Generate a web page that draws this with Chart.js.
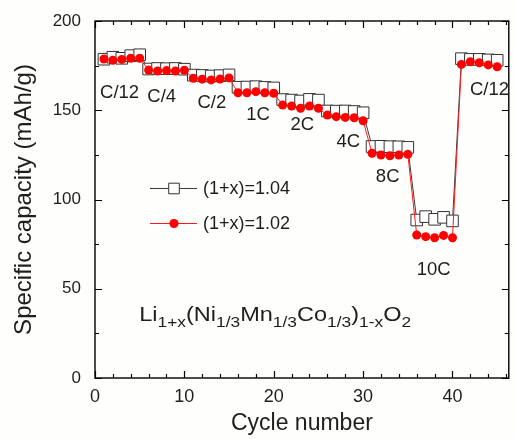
<!DOCTYPE html>
<html>
<head>
<meta charset="utf-8">
<script src="https://cdn.jsdelivr.net/npm/chart.js@4.4.0/dist/chart.umd.min.js"></script>
<style>
  html, body { margin: 0; padding: 0; overflow: hidden; background: #fefefc; }
  #wrap { width: 518px; height: 439px; }
</style>
</head>
<body>
<div id="wrap"><canvas id="c" width="518" height="439"></canvas></div>
<script>
// Rate-capability test: discharge capacity per cycle for two Li/TM ratios
const cycles = [1,2,3,4,5,6,7,8,9,10,11,12,13,14,15,16,17,18,19,20,21,22,23,24,25,
                26,27,28,29,30,31,32,33,34,35,36,37,38,39,40,41,42,43,44,45];
const cap104 = [178.6,179.7,179.1,180.6,181.1, 173.1,173.4,173.3,173.4,173.0,
                169.7,169.5,169.2,169.4,169.8, 162.9,163.0,163.2,162.8,162.5,
                156.0,155.7,155.2,156.1,155.7, 149.6,149.5,149.6,149.3,148.6,
                129.7,129.8,129.6,129.5,129.2, 88.5,90.4,88.9,90.0,88.0,
                178.9,178.5,178.5,178.2,178.0];
const cap102 = [178.7,178.0,178.5,179.1,179.1, 172.5,172.0,172.2,172.0,172.4,
                167.9,167.4,167.0,167.5,168.1, 159.8,159.8,160.4,159.8,159.5,
                152.9,152.4,151.1,152.4,151.1, 147.3,146.4,146.0,145.8,144.1,
                125.9,124.9,124.5,124.9,125.3, 80.1,79.2,78.6,79.9,78.6,
                175.7,177.2,176.6,175.4,174.4];
const seriesNames = ['(1+x)=1.04', '(1+x)=1.02'];

// C-rate labels and where they sit (cycle, capacity)
const rateLabels     = ['C/12','C/4','C/2','1C','2C','4C','8C','10C','C/12'];
const rateLabelCycle = [2.75, 7.47, 13.08, 18.24, 23.19, 28.35, 32.75, 37.9, 44.14];
const rateLabelCap   = [159.7, 157.4, 154.1, 147.3, 141.7, 132.2, 112.6, 60.5, 161.3];

// Composition label, [text, isSubscript]
const formulaParts = [['Li',0],['1+x',1],['(Ni',0],['1/3',1],['Mn',0],['1/3',1],
                      ['Co',0],['1/3',1],[')',0],['1-x',1],['O',0],['2',1]];
const formulaAt = [4.95, 32.1];

const xTickValues = [0, 10, 20, 30, 40];
const yTickValues = [0, 50, 100, 150, 200];

const TEXT = '#1e1e1e';
const FONT = "'Liberation Sans', Arial, sans-serif";

const toPoints = (ys) => cycles.map((c, i) => ({ x: c, y: ys[i] }));

// Box frame with inward major/minor ticks on all four sides
const frameTicks = {
  id: 'frameTicks',
  afterDatasetsDraw(chart) {
    const { ctx, chartArea: a, scales: { x, y } } = chart;
    ctx.save();
    ctx.strokeStyle = '#000';
    ctx.lineWidth = 1.4;
    ctx.strokeRect(a.left, a.top, a.right - a.left, a.bottom - a.top);
    ctx.lineWidth = 1.2;
    ctx.beginPath();
    for (let v = 0; v <= x.max; v += 2) {
      const px = Math.round(x.getPixelForValue(v)) + 0.5;
      const len = v % 10 === 0 ? 7 : 4;
      ctx.moveTo(px, a.bottom); ctx.lineTo(px, a.bottom - len);
      ctx.moveTo(px, a.top); ctx.lineTo(px, a.top + len);
    }
    for (let v = 0; v <= y.max; v += 25) {
      const py = Math.round(y.getPixelForValue(v)) + 0.5;
      const len = v % 50 === 0 ? 7 : 4;
      ctx.moveTo(a.left, py); ctx.lineTo(a.left + len, py);
      ctx.moveTo(a.right, py); ctx.lineTo(a.right - len, py);
    }
    ctx.stroke();
    ctx.restore();
  }
};

// Rate annotations, legend and composition text inside the plot
const annotations = {
  id: 'annotations',
  afterDraw(chart) {
    const { ctx, chartArea: a, scales: { x, y } } = chart;
    ctx.save();
    ctx.fillStyle = TEXT;
    ctx.font = '18.5px ' + FONT;
    ctx.textAlign = 'center';
    ctx.textBaseline = 'middle';
    rateLabels.forEach((t, i) => {
      ctx.fillText(t, x.getPixelForValue(rateLabelCycle[i]), y.getPixelForValue(rateLabelCap[i]));
    });

    // legend
    const ds = chart.data.datasets;
    const lx0 = a.left + 55, lx1 = a.left + 102, mx = a.left + 79;
    const rows = [a.top + 167, a.top + 202];
    ds.forEach((d, i) => {
      const ry = rows[i];
      ctx.strokeStyle = d.borderColor;
      ctx.lineWidth = 1;
      ctx.beginPath(); ctx.moveTo(lx0, ry + 0.5); ctx.lineTo(lx1, ry + 0.5); ctx.stroke();
      ctx.fillStyle = d.pointBackgroundColor;
      ctx.strokeStyle = d.pointBorderColor;
      ctx.lineWidth = d.pointBorderWidth || 0.001;
      Chart.helpers.drawPoint(ctx, {
        pointStyle: d.pointStyle,
        radius: i === 0 ? 7.5 : 4.6,
        borderWidth: d.pointBorderWidth,
        rotation: 0
      }, mx, ry + 0.5);
      ctx.fillStyle = TEXT;
      ctx.font = '18px ' + FONT;
      ctx.textAlign = 'left';
      ctx.textBaseline = 'middle';
      ctx.fillText(seriesNames[i], lx1 + 6, ry + 1);
    });

    // composition
    const fx = x.getPixelForValue(formulaAt[0]);
    const fy = y.getPixelForValue(formulaAt[1]);
    ctx.translate(fx, fy);
    ctx.scale(1.12, 1);
    ctx.fillStyle = TEXT;
    ctx.textAlign = 'left';
    ctx.textBaseline = 'alphabetic';
    let cx = 0;
    formulaParts.forEach(([t, sub]) => {
      ctx.font = (sub ? '15.5px ' : '21px ') + FONT;
      ctx.fillText(t, cx, sub ? 6 : 0);
      cx += ctx.measureText(t).width;
    });
    ctx.restore();
  }
};

new Chart(document.getElementById('c'), {
  type: 'line',
  data: {
    datasets: [
      {
        label: seriesNames[0],
        data: toPoints(cap104),
        borderColor: '#3c3c3c',
        borderWidth: 1,
        pointStyle: 'rect',
        pointRadius: 8.2,
        pointBackgroundColor: '#ffffff',
        pointBorderColor: '#333333',
        pointBorderWidth: 1,
        order: 2
      },
      {
        label: seriesNames[1],
        data: toPoints(cap102),
        borderColor: '#ff1a1a',
        borderWidth: 1,
        pointStyle: 'circle',
        pointRadius: 4.5,
        pointBackgroundColor: '#ff0000',
        pointBorderColor: '#ff0000',
        pointBorderWidth: 0,
        order: 1
      }
    ]
  },
  options: {
    responsive: false,
    devicePixelRatio: 1,
    animation: false,
    layout: { padding: { top: 21, right: 1, left: 0, bottom: 0 } },
    plugins: { legend: { display: false }, tooltip: { enabled: false } },
    elements: { line: { tension: 0 } },
    scales: {
      x: {
        type: 'linear',
        min: 0,
        max: 46.3,
        grid: { display: false },
        border: { display: false },
        afterFit: (s) => { s.height = 61; },
        ticks: {
          stepSize: 10,
          includeBounds: false,
          padding: 0,
          color: TEXT,
          font: { family: FONT, size: 18 },
          callback: (v) => xTickValues.includes(v) ? String(v) : ''
        },
        title: {
          display: true,
          text: 'Cycle number',
          color: TEXT,
          font: { family: FONT, size: 23 },
          padding: { top: 0, bottom: 2 }
        }
      },
      y: {
        min: 0,
        max: 200,
        grid: { display: false },
        border: { display: false },
        afterFit: (s) => { s.width = 95; },
        ticks: {
          stepSize: 50,
          padding: 6,
          color: TEXT,
          font: { family: FONT, size: 17 },
          callback: (v) => yTickValues.includes(v) ? String(v) : ''
        },
        title: {
          display: true,
          text: 'Specific capacity (mAh/g)',
          color: TEXT,
          font: { family: FONT, size: 24 },
          padding: { top: 10, bottom: 0 }
        }
      }
    }
  },
  plugins: [frameTicks, annotations]
});
</script>
</body>
</html>
